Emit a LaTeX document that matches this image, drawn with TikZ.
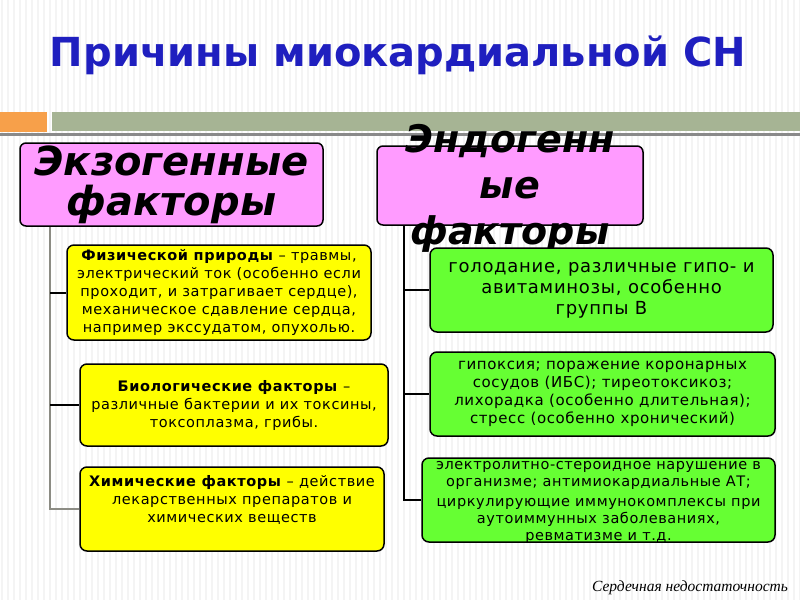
\documentclass[tikz,border=0pt]{standalone}
\usepackage{fontspec}
\setmainfont{DejaVu Sans}
\newfontfamily\bodyfont[LetterSpace=4]{DejaVu Sans}
\newfontfamily\notefont{Liberation Serif}
\usetikzlibrary{positioning}
\definecolor{cardblue}{HTML}{1F1FBF}
\definecolor{cardorange}{HTML}{F7A04A}
\definecolor{cardband}{HTML}{A6B494}
\definecolor{cardrule}{HTML}{8A8A8A}
\definecolor{cardstripe}{HTML}{F4F4F4}
\definecolor{cardpink}{HTML}{FF9BFF}
\definecolor{cardyellow}{HTML}{FFFF00}
\definecolor{cardgreen}{HTML}{66FF33}
\definecolor{cardtrunk}{HTML}{8C8C84}
\tikzset{
  headbox/.style={draw=black,line width=1.5pt,rounded corners=6pt,fill=cardpink,
                  align=center,inner sep=0pt,
                  font=\bfseries\itshape\fontsize{40}{40}\selectfont},
  exobox/.style={draw=black,line width=1.5pt,rounded corners=7pt,fill=cardyellow,
                 align=center,inner sep=0pt,font=\bodyfont\fontsize{14.5}{18}\selectfont},
  endobox/.style={draw=black,line width=1.5pt,rounded corners=7pt,fill=cardgreen,
                  align=center,inner sep=0pt,font=\bodyfont\fontsize{14.5}{18}\selectfont},
  trunk/.style={line width=1.5pt,draw=cardtrunk},
  branch/.style={line width=2pt,draw=black},
  stripe/.style={line width=2.5pt,draw=cardstripe}
}
\begin{document}
\begin{tikzpicture}[x=1pt,y=-1pt]
  \useasboundingbox (0,0) rectangle (800,600);
  \fill[white] (0,0) rectangle (800,600);
  \foreach \sx in {2,8,...,800}
    \draw[stripe] (\sx,0) -- (\sx,600);

  % title and band
  \node[font=\bfseries\fontsize{40}{46}\selectfont,text=cardblue] (title) at (398,55) {Причины миокардиальной СН};
  \fill[cardorange] (0,112) rectangle (47,132);
  \fill[cardband] (52,112) rectangle (800,131);
  \fill[cardrule] (0,133) rectangle (800,136);

  % headers
  \node[headbox,minimum width=303,minimum height=83] (exo) at (171.5,184.5) {Экзогенные\\факторы};
  \node[headbox,minimum width=266,minimum height=79] (endo) at (510,185.5) {};
  \node[font=\bfseries\itshape\fontsize{38}{46}\selectfont,align=center] (endotext) at (510,188.5) {Эндогенн\\ые\\факторы};

  % exogenous factors
  \node[exobox,minimum width=304,minimum height=95] (phys) at (219,292.5)
    {\textbf{Физической природы} – травмы,\\электрический ток (особенно если\\проходит, и затрагивает сердце),\\механическое сдавление сердца,\\например экссудатом, опухолью.};
  \node[exobox,minimum width=308,minimum height=82] (bio) at (234,405)
    {\textbf{Биологические факторы} –\\различные бактерии и их токсины,\\токсоплазма, грибы.};
  \node[exobox,minimum width=304,minimum height=84] (chem) at (232,509) {};
  \node[font=\bodyfont\fontsize{14.5}{18}\selectfont,align=center] (chemtext) at (232,500)
    {\textbf{Химические факторы} – действие\\лекарственных  препаратов и\\химических веществ};

  % endogenous factors
  \node[endobox,minimum width=343,minimum height=84,font=\bodyfont\fontsize{18}{21}\selectfont] (hunger) at (601.5,290)
    {голодание, различные гипо- и\\авитаминозы, особенно\\группы В};
  \node[endobox,minimum width=345,minimum height=84,font=\bodyfont\fontsize{15}{18}\selectfont] (hypox) at (602.5,394)
    {гипоксия; поражение коронарных\\сосудов (ИБС); тиреотоксикоз;\\лихорадка (особенно длительная);\\стресс (особенно хронический)};
  \node[endobox,minimum width=353,minimum height=84] (immune) at (598.5,500) {};
  \node[font=\bodyfont\fontsize{14.5}{17}\selectfont,align=center] (immunetext) at (598.5,502)
    {электролитно-стероидное нарушение в\\организме; антимиокардиальные АТ;\\[3pt]циркулирующие иммунокомплексы при\\аутоиммунных заболеваниях,\\ревматизме и т.д.};

  % tree lines
  \coordinate (exoline) at (50,0);
  \coordinate (endoline) at (404,0);
  \draw[trunk] (exo.south -| exoline) |- (chem.west);
  \draw[branch] (phys.west -| exoline) -- (phys.west);
  \draw[branch] (bio.west -| exoline) -- (bio.west);
  \draw[branch] (endo.south -| endoline) |- (immune.west);
  \draw[branch] (hunger.west -| endoline) -- (hunger.west);
  \draw[branch] (hypox.west -| endoline) -- (hypox.west);

  \node[font=\notefont\itshape\fontsize{15.5}{17}\selectfont] (note) at (690,588) {Сердечная недостаточность};
\end{tikzpicture}
\end{document}
